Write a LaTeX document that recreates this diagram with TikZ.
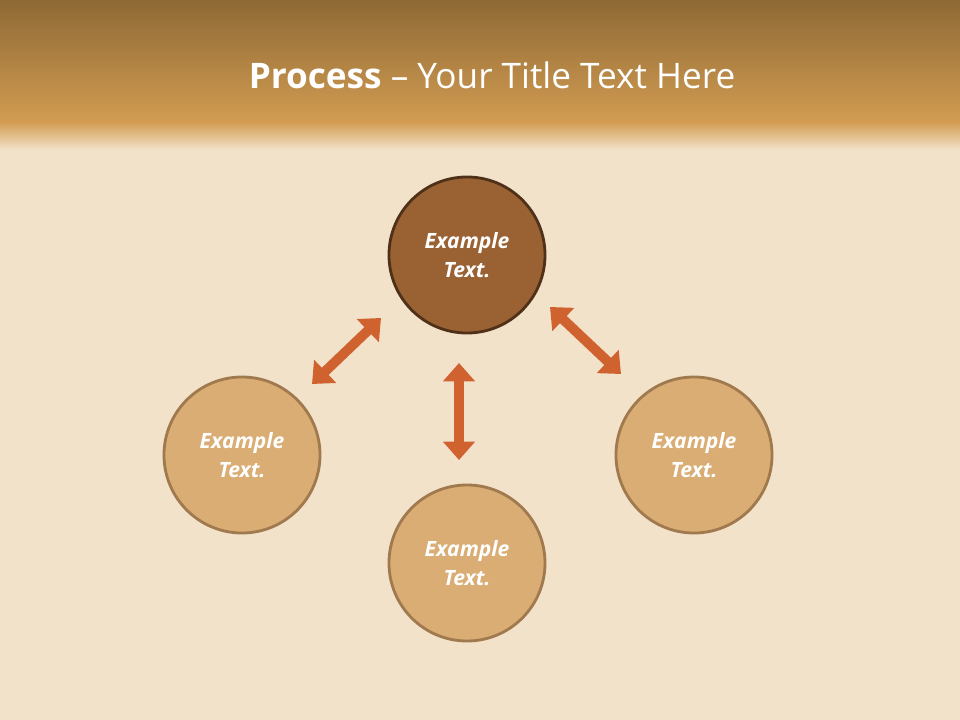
\documentclass[tikz,border=0pt]{standalone}
\usepackage{fontspec}
\setmainfont{Open Sans}
\usetikzlibrary{positioning,arrows.meta}
\definecolor{woodbg}{HTML}{F3E2CA}
\definecolor{headtop}{HTML}{8E6935}
\definecolor{headbot}{HTML}{D29C52}
\definecolor{arrowor}{HTML}{D0622F}
\definecolor{darkfill}{HTML}{9A6233}
\definecolor{darkline}{HTML}{4E3118}
\definecolor{lightfill}{HTML}{D9AD73}
\definecolor{lightline}{HTML}{A07A4E}
\tikzset{
  bubble/.style={circle, minimum size=3.9cm, line width=2pt, draw=lightline, fill=lightfill,
    text=white, font=\fontsize{15}{21}\selectfont\bfseries\itshape, align=center},
  topbubble/.style={bubble, draw=darkline, fill=darkfill},
  twoway/.style={{Triangle[width=22pt,length=13pt]}-{Triangle[width=22pt,length=13pt]},
    line width=7pt, draw=arrowor, color=arrowor}
}
\begin{document}
\begin{tikzpicture}[x=0.025cm,y=-0.025cm]
\useasboundingbox (0,0) rectangle (960,720);
% background
\fill[woodbg] (0,0) rectangle (960,720);
\shade[top color=headtop, bottom color=headbot] (0,0) rectangle (960,122);
\shade[top color=headbot, bottom color=woodbg] (0,122) rectangle (960,150);
\node[text=white, font=\fontsize{25}{30}\selectfont] (title) at (492,75)
  {\textbf{Process} -- Your Title Text Here};

% circles
\node[topbubble] (top) at (467,255) {Example\\Text.};
\node[bubble] (left) at (242,455) {Example\\Text.};
\node[bubble] (right) at (694,455) {Example\\Text.};
\node[bubble] (bottom) at (467,563) {Example\\Text.};

% arrows
\coordinate (la) at (312,384);
\coordinate (lb) at (381,318);
\coordinate (ra) at (550,307);
\coordinate (rb) at (621,374);
\coordinate (ma) at (459,363);
\coordinate (mb) at (459,460);
\draw[twoway] (la) -- (lb);
\draw[twoway] (ra) -- (rb);
\draw[twoway] (ma) -- (mb);
\end{tikzpicture}
\end{document}
